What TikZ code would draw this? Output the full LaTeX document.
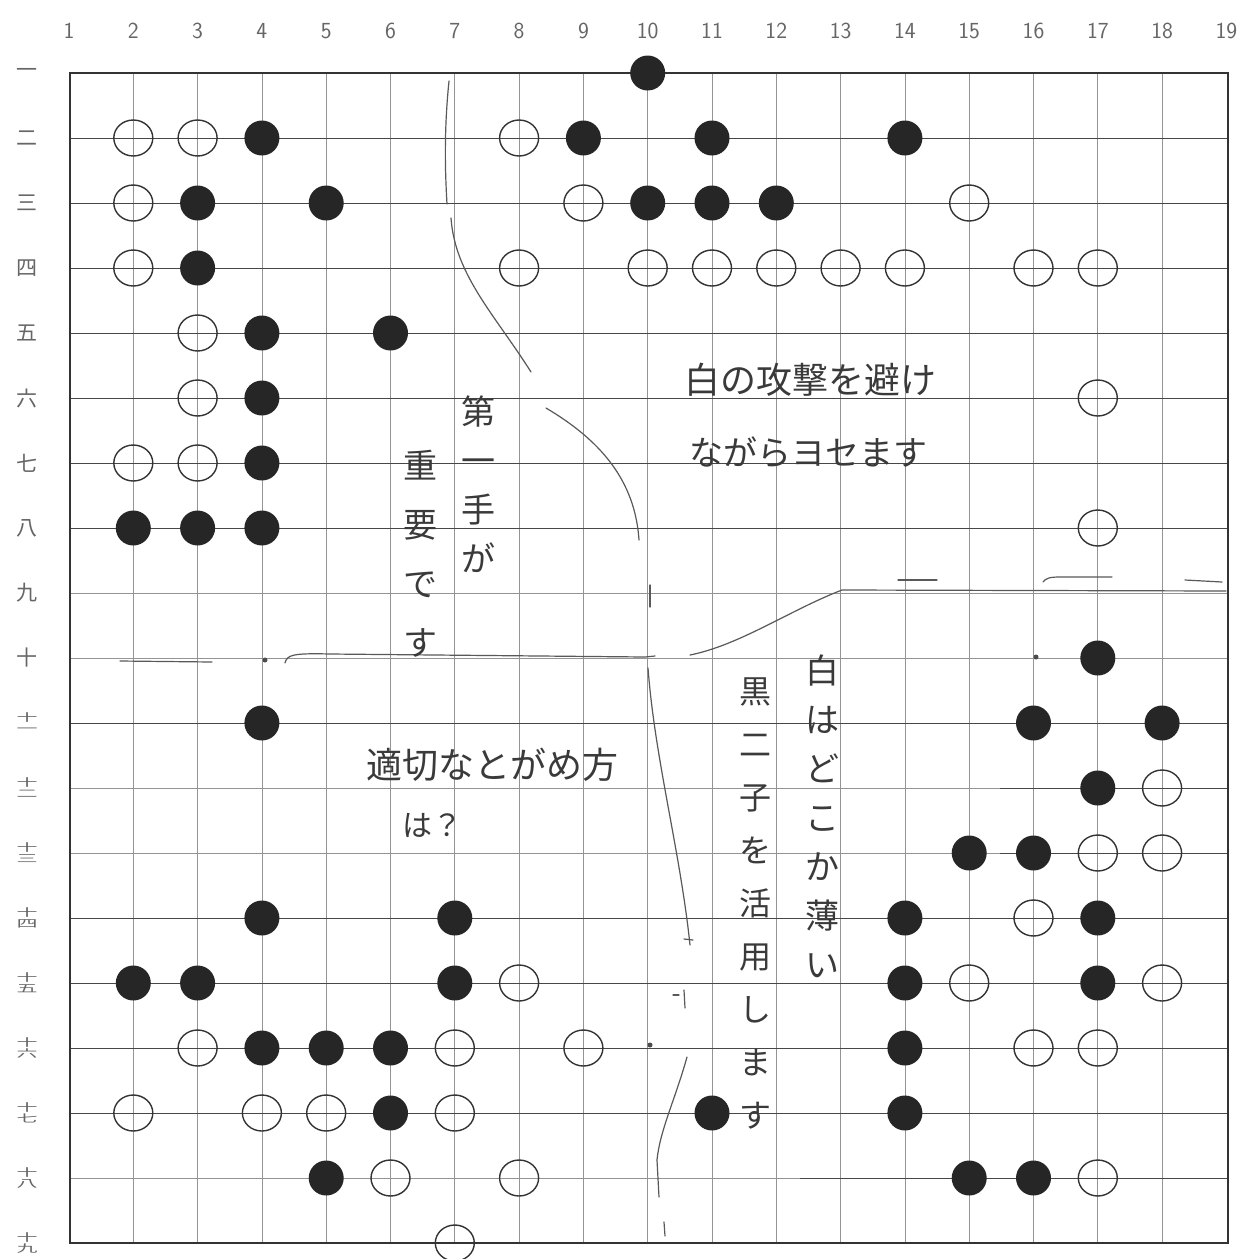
\documentclass[tikz,border=0pt]{standalone}
\usepackage{fontspec}
\usepackage{graphicx}
\usetikzlibrary{shapes.geometric}
\newfontfamily\jp{Noto Sans CJK JP}
\definecolor{ink}{HTML}{3A3A3A}
\newcommand\sqz[1]{\scalebox{1}[0.5]{#1}}
\begin{document}
\begin{tikzpicture}[x=1pt,y=-1pt,
  bst/.style={circle,fill=black!85,inner sep=0,minimum size=35pt},
  wst/.style={ellipse,draw=black!80,line width=1.4pt,inner sep=0,minimum width=39pt,minimum height=36pt},
  hand/.style={text=ink,inner sep=0},
  pen/.style={draw=black!65,line width=1.2pt,line cap=round},
  dline/.style={draw=black!72,line width=1pt},
  lline/.style={draw=black!42,line width=0.8pt},
  clab/.style={text=black!60,font=\sffamily\fontsize{23}{23}\selectfont},
  rlab/.style={text=black!60,align=center,inner sep=0,font=\jp\fontsize{21}{11}\selectfont},
  hoshi/.style={circle,fill=black!70,inner sep=0,minimum size=5pt}]
\useasboundingbox (0,0) rectangle (1241,1259);
\fill[white] (0,0) rectangle (1241,1259);
% grid
\foreach \c in {2,...,18} \draw[lline] ({69+(\c-1)*64.3},73) -- ({69+(\c-1)*64.3},1243);
\foreach \r in {2,...,18} \draw[lline] (70,{73+(\r-1)*65}) -- (1228,{73+(\r-1)*65});
\foreach \r in {2,3,4,5,6,7,8,11,14,15,16,17} \draw[dline] (70,{73+(\r-1)*65}) -- (1228,{73+(\r-1)*65});
\foreach \r in {12,13} \draw[dline] (1000,{73+(\r-1)*65}) -- (1228,{73+(\r-1)*65});
\draw[dline] (800,1178) -- (1228,1178);
\draw[draw=black!80,line width=1.8pt] (70,73) rectangle (1228,1243);
% hoshi
\node[hoshi] (h1) at (265,660) {};
\node[hoshi] (h2) at (1036,657) {};
\node[hoshi] (h3) at (650,1045) {};
% column labels
\foreach \c in {1,...,19} \node[clab] (c\c) at ({69+(\c-1)*64.3},31) {\c};
% row labels
\foreach \k [count=\r] in {一,二,三,四,五,六,七,八,九,十}
  \node[rlab,font=\jp\fontsize{21}{21}\selectfont] (r\r) at (27,{73+(\r-1)*65}) {\k};
\foreach \k [count=\i from 11] in {一,二,三,四,五,六,七,八,九}
  \node[rlab] (r\i) at (27,{73+(\i-1)*65}) {\sqz{十}\\\sqz{\k}};
% hand-drawn boundary lines
\draw[pen] (449,81) .. controls (444,130) and (445,170) .. (447,204);
\draw[pen] (451,218) .. controls (455,275) and (495,315) .. (531,372);
\draw[pen] (546,408) .. controls (600,440) and (635,480) .. (639,540);
\draw[pen] (650,585) -- (650,607);
\draw[pen] (120,661) -- (212,662);
\draw[pen] (285,663) .. controls (287,655) and (292,653) .. (330,654) -- (645,657) -- (655,656);
\draw[pen] (690,655) .. controls (740,645) and (790,610) .. (842,590) -- (1226,591);
\draw[pen] (898,580) -- (937,580);
\draw[pen] (1043,582) .. controls (1046,578) and (1050,577) .. (1060,577) -- (1112,577);
\draw[pen] (1185,580) -- (1222,582);
\draw[pen] (648,668) .. controls (655,760) and (680,850) .. (690,945);
\draw[pen] (684,939) -- (693,940);
\draw[pen] (673,995) -- (679,995);
\draw[pen] (684,990) -- (685,1008);
\draw[pen] (687,1057) .. controls (675,1100) and (660,1130) .. (657,1160) -- (659,1197);
\draw[pen] (664,1222) -- (665,1236);
% stones
\foreach \c/\r [count=\i] in {10/1,4/2,9/2,11/2,14/2,3/3,5/3,10/3,11/3,12/3,3/4,4/5,6/5,4/6,4/7,2/8,3/8,4/8,17/10,4/11,16/11,18/11,17/12,15/13,16/13,4/14,7/14,14/14,17/14,2/15,3/15,7/15,14/15,17/15,4/16,5/16,6/16,14/16,6/17,11/17,14/17,5/18,15/18,16/18}
  \node[bst] (b\i) at ({69+(\c-1)*64.3},{73+(\r-1)*65}) {};
\foreach \c/\r [count=\i] in {2/2,3/2,8/2,2/3,9/3,15/3,2/4,8/4,10/4,11/4,12/4,13/4,14/4,16/4,17/4,3/5,3/6,17/6,2/7,3/7,17/8,18/12,17/13,18/13,16/14,8/15,15/15,18/15,3/16,7/16,9/16,16/16,17/16,2/17,4/17,5/17,7/17,6/18,8/18,17/18,7/19}
  \node[wst] (w\i) at ({69+(\c-1)*64.3},{73+(\r-1)*65}) {};
% handwritten notes
\node[hand,font=\jp\fontsize{36}{36}\selectfont] (n1) at (810,380) {白の攻撃を避け};
\node[hand,font=\jp\fontsize{34}{34}\selectfont] (n2) at (808,452) {ながらヨセます};
\node[hand,align=center,anchor=north,font=\jp\fontsize{34}{49}\selectfont] (n3) at (478,396) {第\\一\\手\\が};
\node[hand,align=center,anchor=north,font=\jp\fontsize{34}{59}\selectfont] (n4) at (420,450) {重\\要\\で\\す};
\node[hand,font=\jp\fontsize{36}{36}\selectfont] (n5) at (492,765) {適切なとがめ方};
\node[hand,font=\jp\fontsize{30}{30}\selectfont] (n6) at (432,825) {は？};
\node[hand,align=center,anchor=north,font=\jp\fontsize{34}{49}\selectfont] (n7) at (822,655) {白\\は\\ど\\こ\\か\\薄\\い};
\node[hand,align=center,anchor=north,font=\jp\fontsize{32}{53}\selectfont] (n8) at (755,678) {黒\\二\\子\\を\\活\\用\\し\\ま\\す};
\end{tikzpicture}
\end{document}
